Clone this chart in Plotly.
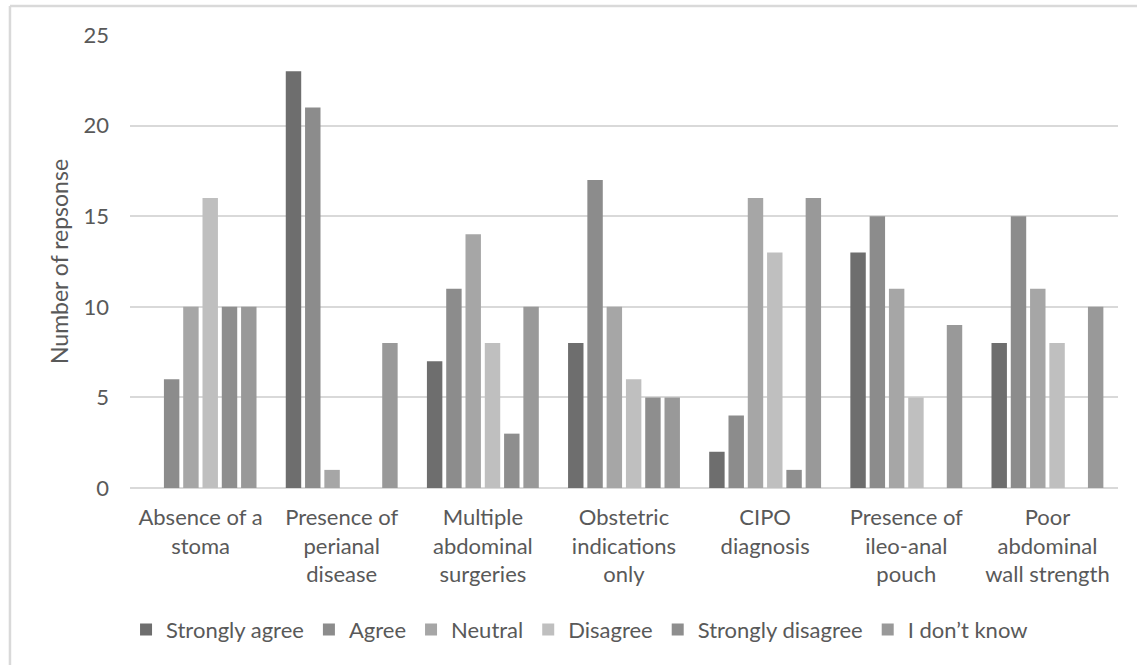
import plotly.graph_objects as go

categories = [
    "Absence of a<br>stoma",
    "Presence of<br>perianal<br>disease",
    "Multiple<br>abdominal<br>surgeries",
    "Obstetric<br>indications<br>only",
    "CIPO<br>diagnosis",
    "Presence of<br>ileo-anal<br>pouch",
    "Poor<br>abdominal<br>wall strength",
]

strongly_agree = [0, 23, 7, 8, 2, 13, 8]
agree = [6, 21, 11, 17, 4, 15, 15]
neutral = [10, 1, 14, 10, 16, 11, 11]
disagree = [16, 0, 8, 6, 13, 5, 8]
strongly_disagree = [10, 0, 3, 5, 1, 0, 0]
dont_know = [10, 8, 10, 5, 16, 9, 10]

series = [
    ("Strongly agree", strongly_agree, "#6e6e6e"),
    ("Agree", agree, "#8c8c8c"),
    ("Neutral", neutral, "#a6a6a6"),
    ("Disagree", disagree, "#bfbfbf"),
    ("Strongly disagree", strongly_disagree, "#8e8e8e"),
    ("I don\u2019t know", dont_know, "#999999"),
]

text_color = "#595959"
font_family = "Lato, Carlito, 'Open Sans', sans-serif"

fig = go.Figure()
for name, vals, color in series:
    fig.add_trace(go.Bar(
        name=name, x=categories, y=vals,
        marker=dict(color=color, line=dict(width=0)),
    ))

fig.update_layout(
    width=1137, height=665,
    margin=dict(l=130, r=19, t=35, b=177),
    paper_bgcolor="white", plot_bgcolor="white",
    barmode="group", bargap=0.18, bargroupgap=0.2,
    font=dict(family=font_family, size=22, color=text_color),
    showlegend=True,
    legend=dict(
        orientation="h", x=0.455, xanchor="center", y=-0.313, yanchor="middle",
        font=dict(size=22, color=text_color), itemwidth=30,
        traceorder="normal",
    ),
    xaxis=dict(
        showgrid=False, showline=False, ticks="",
        tickfont=dict(size=22, color=text_color),
        ticklabelstandoff=14,
    ),
    yaxis=dict(
        range=[0, 25], dtick=5, showgrid=True, gridcolor="#d9d9d9", gridwidth=1.5,
        zeroline=True, zerolinecolor="#d9d9d9", zerolinewidth=1.5,
        showline=False, ticks="",
        tickfont=dict(size=22, color=text_color),
        ticklabelstandoff=20,
        title=dict(text="Number of repsonse", font=dict(size=23, color=text_color), standoff=8),
    ),
    shapes=[
        # outer chart frame (top and left edges)
        dict(type="line", xref="paper", yref="paper", x0=-0.1215, x1=1.05, y0=1.064, y1=1.064,
             line=dict(color="#d9d9d9", width=2.5)),
        dict(type="line", xref="paper", yref="paper", x0=-0.1215, x1=-0.1215, y0=-0.5, y1=1.064,
             line=dict(color="#d9d9d9", width=2.5)),
    ],
)

fig.write_html("out.html")
